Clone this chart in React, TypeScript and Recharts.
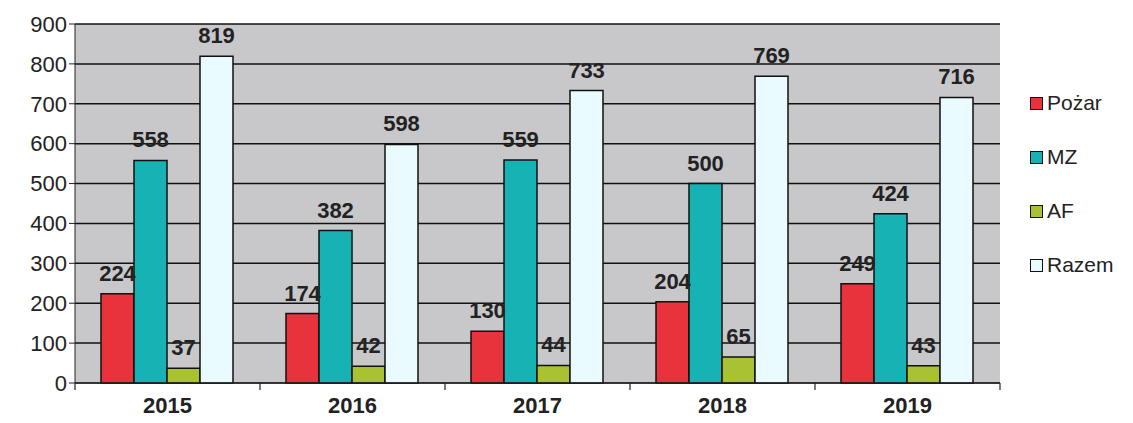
import { BarChart, Bar, XAxis, YAxis, CartesianGrid, LabelList } from "recharts";

const years = ["2015", "2016", "2017", "2018", "2019"];
const pozar = [224, 174, 130, 204, 249];
const mz = [558, 382, 559, 500, 424];
const af = [37, 42, 44, 65, 43];
const razem = [819, 598, 733, 769, 716];
const yTicks = [0, 100, 200, 300, 400, 500, 600, 700, 800, 900];

const series = [
  { key: "pozar", name: "Pożar", color: "#e8323c" },
  { key: "mz", name: "MZ", color: "#17b2b4" },
  { key: "af", name: "AF", color: "#a9c232" },
  { key: "razem", name: "Razem", color: "#e9fbff" },
];

const data = years.map((y, i) => ({
  year: y,
  pozar: pozar[i],
  mz: mz[i],
  af: af[i],
  razem: razem[i],
}));

const font = "'Liberation Sans', Arial, sans-serif";
const W = 1133;
const H = 423;
const M = { top: 24, right: 133, left: 0, bottom: 0 };
const Y_W = 75;
const band = (W - M.right - M.left - Y_W) / years.length;

// year label plus the small tick marks sitting between categories
const YearTick = (props: any) => {
  const { x, y, payload, index } = props;
  const left = x - band / 2;
  return (
    <g>
      <line x1={left} y1={y} x2={left} y2={y + 7} stroke="#222" strokeWidth={1.2} />
      {index === years.length - 1 && (
        <line x1={x + band / 2} y1={y} x2={x + band / 2} y2={y + 7} stroke="#222" strokeWidth={1.2} />
      )}
      <text x={x} y={y + 30} textAnchor="middle" fontSize={22} fontWeight="bold" fill="#222" fontFamily={font}>
        {payload.value}
      </text>
    </g>
  );
};

export default function App() {
  return (
    <div style={{ position: "absolute", left: 0, top: 0, width: W, height: H, background: "#fff", fontFamily: font }}>
      <BarChart width={W} height={H} data={data} margin={M} barGap={0} barCategoryGap={26}>
        <CartesianGrid vertical={false} fill="#c8c8cb" stroke="#111" strokeWidth={1.5} />
        <XAxis
          dataKey="year"
          height={40}
          stroke="#222"
          tickLine={false}
          tickSize={0}
          tickMargin={0}
          interval={0}
          tick={<YearTick />}
        />
        <YAxis
          width={Y_W}
          domain={[0, 900]}
          ticks={yTicks}
          stroke="#222"
          tickSize={6}
          tick={{ fontSize: 22, fill: "#222", fontFamily: font }}
        />
        {series.map((s) => (
          <Bar key={s.key} dataKey={s.key} name={s.name} fill={s.color} stroke="#111" strokeWidth={1.5} isAnimationActive={false}>
            <LabelList
              dataKey={s.key}
              position="top"
              offset={13}
              style={{ fontSize: 22, fontWeight: "bold", fill: "#222", fontFamily: font }}
            />
          </Bar>
        ))}
      </BarChart>
      <div style={{ position: "absolute", left: 1030, top: 76 }}>
        {series.map((s) => (
          <div key={s.key} style={{ display: "flex", alignItems: "center", height: 54, fontSize: 21, color: "#222" }}>
            <span style={{ width: 11, height: 11, background: s.color, border: "1.5px solid #111", marginRight: 4 }} />
            {s.name}
          </div>
        ))}
      </div>
    </div>
  );
}
